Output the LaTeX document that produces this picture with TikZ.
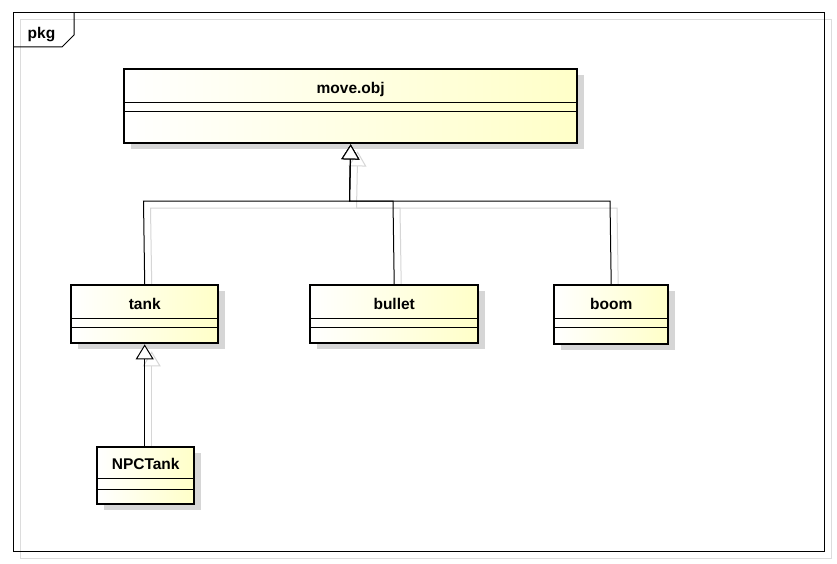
\documentclass[tikz,border=0pt]{standalone}
\usepackage{fontspec}
\setmainfont{Liberation Sans}
\usetikzlibrary{arrows.meta,calc}
\definecolor{clsyellow}{RGB}{255,255,200}
\definecolor{shadowgray}{RGB}{214,214,214}
\definecolor{framegray}{RGB}{220,220,220}
\pgfdeclarelayer{bg}
\pgfsetlayers{bg,main}
\tikzset{
  classbox/.style={draw=black, line width=2.4pt, left color=white, right color=clsyellow, inner sep=0pt, anchor=north west},
  boxshadow/.style={fill=shadowgray, draw=none, inner sep=0pt, anchor=north west},
  divider/.style={line width=0.9pt},
  clsname/.style={font=\fontsize{15.5}{18}\selectfont\bfseries, anchor=base, inner sep=0pt},
  gen/.style={line width=1pt, -{Triangle[open, length=15pt, width=18pt, fill=white, line width=1pt]}},
  genshadow/.style={line width=1pt, draw=shadowgray, -{Triangle[open, length=15pt, width=18pt, fill=white, line width=1pt]}},
}
% #1 name, #2 x, #3 y, #4 w, #5 h, #6 label, #7 divider1, #8 divider2, #9 baseline
\newcommand\umlclass[9]{%
  \begin{pgfonlayer}{bg}
    \node[boxshadow, minimum width=#4pt, minimum height=#5pt] at (#2+8,-#3-7) {};
  \end{pgfonlayer}
  \node[classbox, minimum width=#4pt, minimum height=#5pt] (#1) at (#2,-#3) {};
  \draw[divider] ([yshift=-#7pt]#1.north west) -- ([yshift=-#7pt]#1.north east);
  \draw[divider] ([yshift=-#8pt]#1.north west) -- ([yshift=-#8pt]#1.north east);
  \node[clsname] (#1-name) at ([yshift=-#9pt]#1.north) {#6};
}
\begin{document}
\begin{tikzpicture}[x=1pt,y=1pt]
  \useasboundingbox (0,0) rectangle (837,-564);
  % package frame
  \begin{pgfonlayer}{bg}
    \fill[white] (0,0) rectangle (837,-564);
    \draw[framegray, line width=1pt] (20,-20) rectangle (831,-558);
  \end{pgfonlayer}
  \draw[line width=1pt] (13,-13) rectangle (824,-551);
  \draw[line width=1pt] (13,-47) -- (62,-47) -- (74,-35) -- (74,-13);
  \node[clsname] (pkg) at (41.5,-39) {pkg};

  % classes
  \umlclass{mo}{123}{68}{453}{74}{move.obj}{34}{43}{26}
  \umlclass{tank}{70}{284}{147}{58}{tank}{34}{43}{25}
  \umlclass{bullet}{309}{284}{168}{58}{bullet}{34}{43}{25}
  \umlclass{boom}{553}{284}{114}{59}{boom}{34}{43}{25}
  \umlclass{npc}{96}{446}{97}{57}{NPCTank}{32}{43}{23}

  \coordinate (jn) at (349.5,-201);
  \coordinate (jt) at (143.5,-201);
  \coordinate (jb) at (393,-201);
  \coordinate (jm) at (610,-201);

  % connector shadows
  \begin{pgfonlayer}{bg}
    \draw[genshadow] ([xshift=7pt]tank.north) -- ([shift={(7pt,-7pt)}]jt) -- ([shift={(7pt,-7pt)}]jn) -- ([shift={(7pt,-7pt)}]mo.south);
    \draw[line width=1pt, shadowgray] ([xshift=7pt]bullet.north) -- ([shift={(7pt,-7pt)}]jb) -- ([shift={(7pt,-7pt)}]jn);
    \draw[line width=1pt, shadowgray] ([xshift=7pt]boom.north) -- ([shift={(7pt,-7pt)}]jm) -- ([shift={(7pt,-7pt)}]jn);
    \draw[genshadow] ([xshift=7pt]tank.south |- npc.north) -- ([shift={(7pt,-7pt)}]tank.south);
  \end{pgfonlayer}

  % generalizations
  \draw[gen] (tank.north) -- (jt) -- (jn) -- (mo.south);
  \draw[gen] (bullet.north) -- (jb) -- (jn) -- (mo.south);
  \draw[gen] (boom.north) -- (jm) -- (jn) -- (mo.south);
  \draw[gen] (tank.south |- npc.north) -- (tank.south);
\end{tikzpicture}
\end{document}
